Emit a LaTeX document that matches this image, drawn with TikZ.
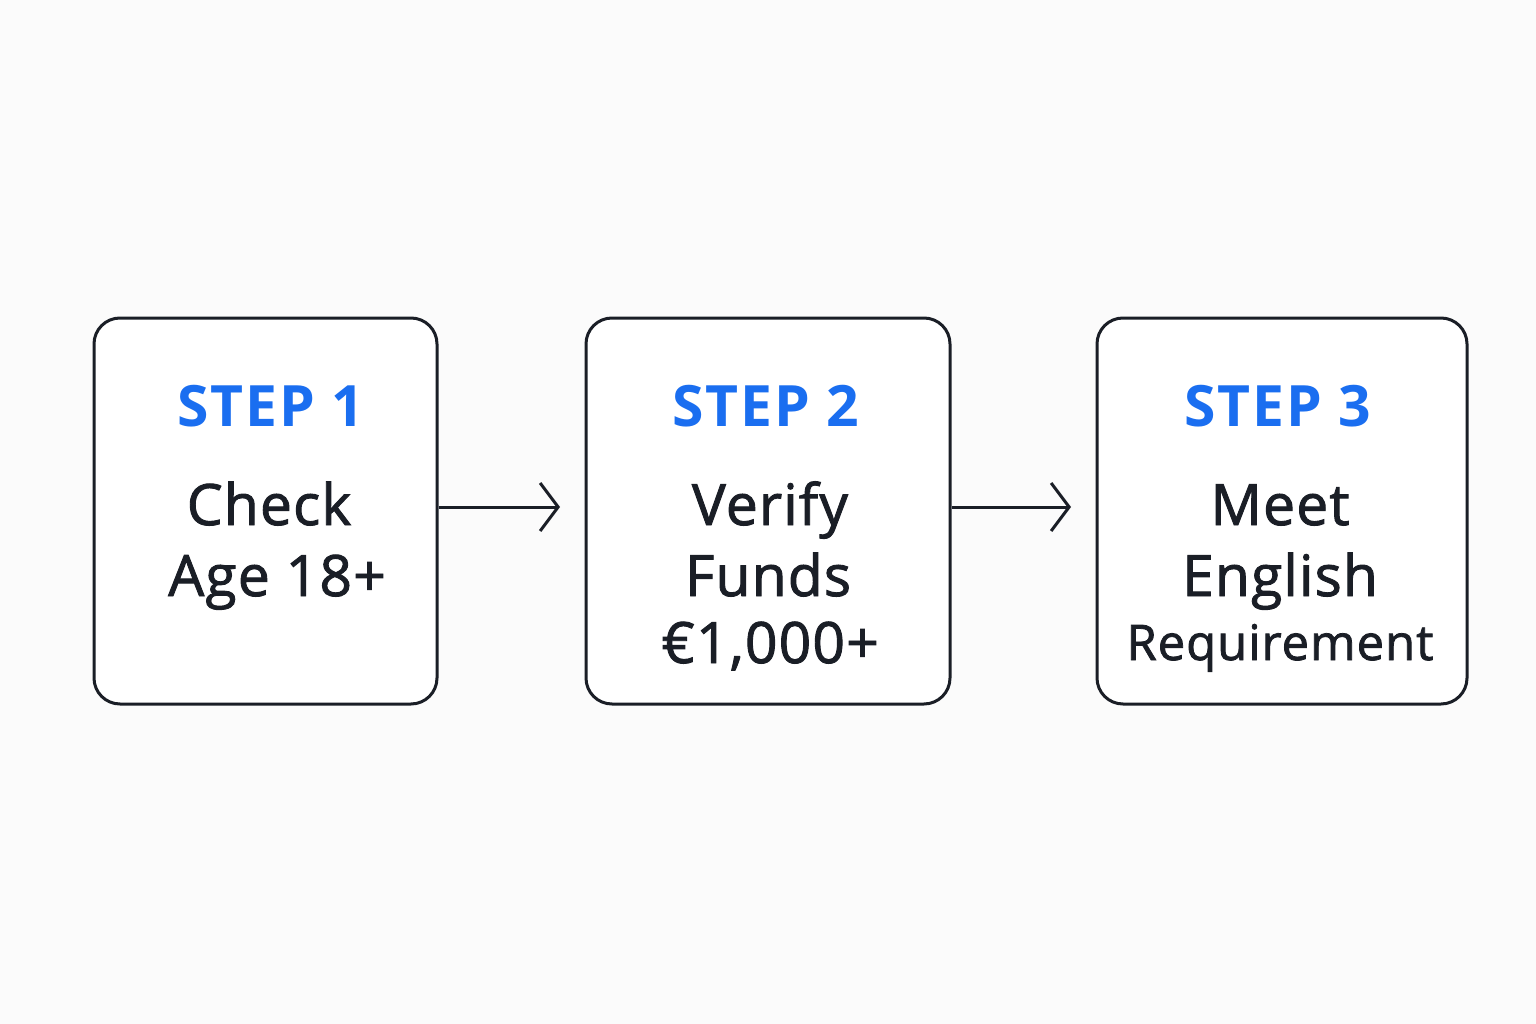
\documentclass[tikz,border=0pt]{standalone}
\usepackage{fontspec}
\setmainfont{Open Sans}
\newfontfamily\bodyfont[FakeBold=1.6,LetterSpace=2]{Open Sans}
\newfontfamily\headfont[LetterSpace=3]{Open Sans}
\usetikzlibrary{arrows.meta}
\definecolor{stepblue}{HTML}{1A6EF0}
\definecolor{ink}{HTML}{1A1E26}
\definecolor{bg}{HTML}{FBFBFB}
\tikzset{
  stepbox/.style={draw=ink, line width=3pt, rounded corners=26pt, fill=white},
  steplabel/.style={anchor=base, text=stepblue, font=\headfont\fontsize{57}{62}\selectfont\bfseries},
  bodytext/.style={anchor=base, text=ink, font=\bodyfont\fontsize{57}{62}\selectfont},
  smalltext/.style={anchor=base, text=ink, font=\bodyfont\fontsize{49}{54}\selectfont},
  flow/.style={draw=ink, line width=3pt, -{Straight Barb[length=18pt,width=48pt,line width=3pt]}}
}
\begin{document}
\begin{tikzpicture}[x=1pt,y=-1pt]
\fill[bg] (0,0) rectangle (1536,1024);
\useasboundingbox (0,0) rectangle (1536,1024);
\node[stepbox, minimum width=343pt, minimum height=386pt] (b1) at (265.5,511) {};
\node[stepbox, minimum width=364pt, minimum height=386pt] (b2) at (768,511) {};
\node[stepbox, minimum width=370pt, minimum height=386pt] (b3) at (1282,511) {};
\node[steplabel] (s1) at (271,426) {STEP 1};
\node[steplabel] (s2) at (766,426) {STEP 2};
\node[steplabel] (s3) at (1278,426) {STEP 3};
\node[bodytext] (t1a) at (269,525) {Check};
\node[bodytext] (t1b) at (277,596) {Age 18+};
\node[bodytext] (t2a) at (770,525) {Verify};
\node[bodytext] (t2b) at (768,596) {Funds};
\node[bodytext] (t2c) at (770,663) {€1,000+};
\node[bodytext] (t3a) at (1280,525) {Meet};
\node[bodytext] (t3b) at (1280,596) {English};
\node[smalltext] (t3c) at (1280,660) {Requirement};
\draw[flow] (b1.east |- 0,507) -- (560,507) coordinate (a1);
\draw[flow] (b2.east |- 0,507) -- (1071,507) coordinate (a2);
\end{tikzpicture}
\end{document}
